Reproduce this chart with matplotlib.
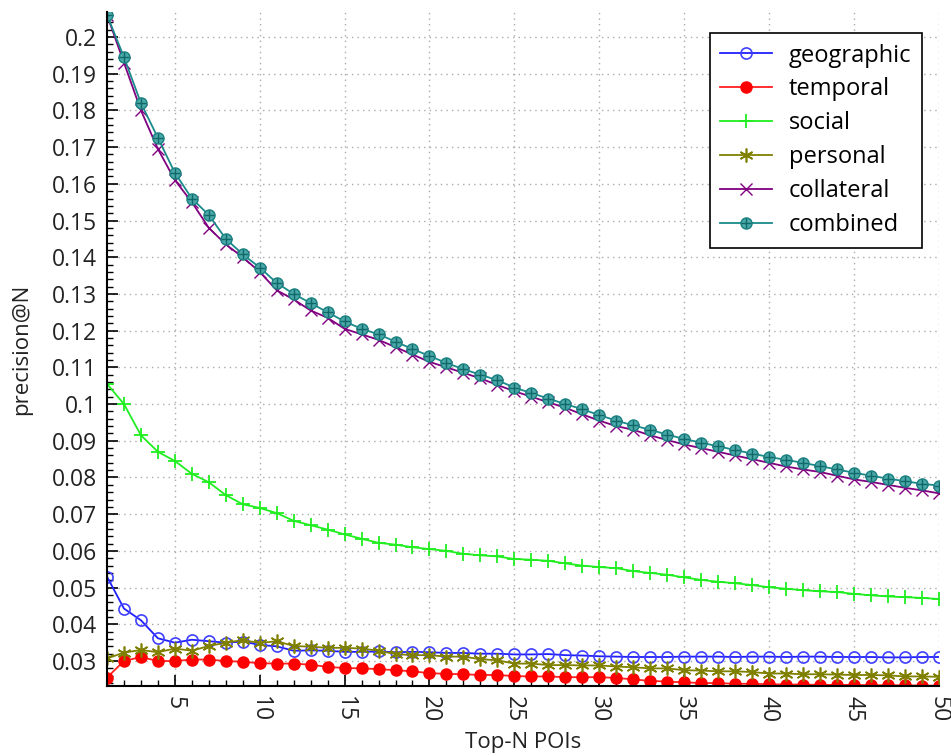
import numpy as np
import matplotlib.pyplot as plt
from matplotlib.ticker import MultipleLocator, FuncFormatter
from matplotlib.legend_handler import HandlerTuple

plt.rcParams['font.family'] = ['Open Sans', 'DejaVu Sans']

topn = list(range(1, 51))

geographic = [0.0530, 0.0443, 0.0411, 0.0362, 0.0350, 0.0358, 0.0354, 0.0350, 0.0353, 0.0344,
              0.0340, 0.0328, 0.0329, 0.0328, 0.0325, 0.0325, 0.0326, 0.0324, 0.0325, 0.0324,
              0.0322, 0.0322, 0.0320, 0.0320, 0.0318, 0.0318, 0.0319, 0.0316, 0.0315, 0.0313,
              0.0312, 0.0311, 0.0311, 0.0311, 0.0312, 0.0312, 0.0312, 0.0311, 0.0312, 0.0312,
              0.0311, 0.0312, 0.0312, 0.0311, 0.0311, 0.0311, 0.0310, 0.0310, 0.0311, 0.0311]
temporal = [0.0255, 0.0300, 0.0311, 0.0300, 0.0300, 0.0304, 0.0304, 0.0300, 0.0298, 0.0294,
            0.0293, 0.0293, 0.0290, 0.0284, 0.0281, 0.0280, 0.0278, 0.0275, 0.0272, 0.0267,
            0.0265, 0.0264, 0.0262, 0.0262, 0.0259, 0.0258, 0.0258, 0.0256, 0.0256, 0.0256,
            0.0254, 0.0250, 0.0246, 0.0244, 0.0242, 0.0240, 0.0240, 0.0238, 0.0238, 0.0237,
            0.0236, 0.0236, 0.0235, 0.0235, 0.0235, 0.0234, 0.0234, 0.0234, 0.0233, 0.0233]
social = [0.1055, 0.1000, 0.0915, 0.0870, 0.0845, 0.0810, 0.0787, 0.0752, 0.0727, 0.0717,
          0.0703, 0.0682, 0.0670, 0.0658, 0.0645, 0.0633, 0.0622, 0.0617, 0.0610, 0.0605,
          0.0600, 0.0592, 0.0588, 0.0585, 0.0578, 0.0576, 0.0573, 0.0566, 0.0560, 0.0556,
          0.0553, 0.0545, 0.0540, 0.0535, 0.0528, 0.0521, 0.0516, 0.0512, 0.0507, 0.0501,
          0.0497, 0.0493, 0.0490, 0.0488, 0.0483, 0.0479, 0.0476, 0.0474, 0.0472, 0.0469]
personal = [0.0307, 0.0323, 0.0330, 0.0324, 0.0334, 0.0328, 0.0341, 0.0350, 0.0357, 0.0349,
            0.0354, 0.0341, 0.0339, 0.0336, 0.0336, 0.0334, 0.0328, 0.0319, 0.0316, 0.0316,
            0.0312, 0.0312, 0.0305, 0.0302, 0.0293, 0.0293, 0.0289, 0.0289, 0.0288, 0.0288,
            0.0285, 0.0283, 0.0280, 0.0280, 0.0275, 0.0274, 0.0272, 0.0272, 0.0270, 0.0266,
            0.0266, 0.0264, 0.0264, 0.0263, 0.0262, 0.0262, 0.0261, 0.0258, 0.0258, 0.0257]
collateral = [0.2060, 0.1930, 0.1800, 0.1695, 0.1610, 0.1550, 0.1480, 0.1435, 0.1400, 0.1360,
              0.1310, 0.1285, 0.1255, 0.1235, 0.1205, 0.1190, 0.1175, 0.1155, 0.1135, 0.1115,
              0.1100, 0.1085, 0.1070, 0.1052, 0.1035, 0.1020, 0.1005, 0.0990, 0.0972, 0.0955,
              0.0940, 0.0930, 0.0915, 0.0902, 0.0890, 0.0880, 0.0870, 0.0860, 0.0850, 0.0840,
              0.0830, 0.0822, 0.0815, 0.0805, 0.0795, 0.0788, 0.0780, 0.0772, 0.0765, 0.0757]
combined = [0.2060, 0.1945, 0.1820, 0.1725, 0.1630, 0.1560, 0.1515, 0.1450, 0.1408, 0.1372,
            0.1330, 0.1300, 0.1275, 0.1250, 0.1225, 0.1205, 0.1190, 0.1170, 0.1150, 0.1131,
            0.1112, 0.1095, 0.1080, 0.1065, 0.1045, 0.1030, 0.1015, 0.1000, 0.0986, 0.0970,
            0.0955, 0.0942, 0.0930, 0.0917, 0.0905, 0.0895, 0.0885, 0.0875, 0.0865, 0.0856,
            0.0848, 0.0840, 0.0831, 0.0822, 0.0813, 0.0805, 0.0797, 0.0790, 0.0783, 0.0778]
labels = ['geographic', 'temporal', 'social', 'personal', 'collateral', 'combined']

fig = plt.figure(figsize=(9.51, 7.56), dpi=100)
ax = fig.add_axes([0.1125, 0.0926, 0.8745, 0.8915])

lw = 1.3
ms = 8
h1, = ax.plot(topn, geographic, color='#2020ff', lw=lw, marker='o', ms=ms,
              mfc='none', mec='#4040ff', mew=1.2)
h2, = ax.plot(topn, temporal, color='#ff2020', lw=lw, marker='o', ms=ms,
              mfc='#ff0000', mec='#ff0000')
h3, = ax.plot(topn, social, color='#20ee20', lw=lw, marker='+', ms=10, mew=1.3)
h4, = ax.plot(topn, personal, color='#808000', lw=lw, marker=(6, 2, 0), ms=10, mew=1.2)
h5, = ax.plot(topn, collateral, color='#800080', lw=lw, marker='x', ms=8, mew=1.0)
h6, = ax.plot(topn, combined, color='#1a8a8a', lw=lw, marker='o', ms=ms,
              mfc='#4aa8a8', mec='#1a8080')
h6b, = ax.plot(topn, combined, ls='none', marker='+', ms=7, mew=1.0, color='#106868')

ax.set_xlim(1, 50)
ax.set_ylim(0.0232, 0.2068)
ax.xaxis.set_major_locator(MultipleLocator(5))
ax.xaxis.set_minor_locator(MultipleLocator(1))
ax.yaxis.set_major_locator(MultipleLocator(0.01))
ax.yaxis.set_minor_locator(MultipleLocator(0.002))
ax.yaxis.set_major_formatter(FuncFormatter(lambda v, p: '%g' % round(v, 3)))

ax.tick_params(which='both', direction='in', colors='black', labelcolor='#222222')
ax.tick_params(which='major', length=8, width=1.2, labelsize=16.5, pad=7)
ax.tick_params(which='minor', length=4, width=1.0)
ax.tick_params(axis='x', labelrotation=-90)
ax.spines['top'].set_visible(False)
ax.spines['right'].set_visible(False)
ax.spines['left'].set_linewidth(1.5)
ax.spines['bottom'].set_linewidth(1.5)
ax.grid(True, which='major', ls=(0, (1, 3)), color='#aaaaaa', lw=1.0)

ax.set_xlabel('Top-N POIs', fontsize=16, color='#222222', labelpad=7)
ax.set_ylabel('precision@N', fontsize=16, color='#222222', labelpad=14)

leg = ax.legend([h1, h2, h3, h4, h5, (h6, h6b)], labels,
                handler_map={tuple: HandlerTuple(ndivide=1, pad=0)},
                loc='upper right', bbox_to_anchor=(0.98, 0.969), borderaxespad=0,
                fontsize=17, fancybox=False, edgecolor='black', framealpha=1,
                handlelength=2.2, handletextpad=0.7, borderpad=0.45,
                labelspacing=0.42)
leg.get_frame().set_linewidth(1.2)

fig.savefig('out.png', dpi=100)
